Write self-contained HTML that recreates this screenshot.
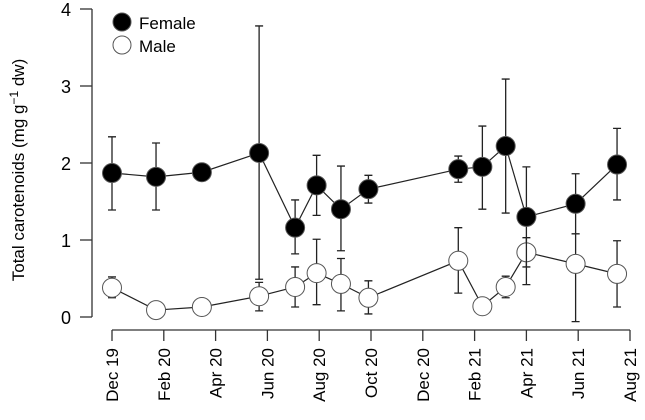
<!DOCTYPE html>
<html><head><meta charset="utf-8"><style>
body{margin:0;background:#fff}
svg{display:block;font-family:"Liberation Sans",Arial,sans-serif}
</style></head><body>
<svg id="chart" width="645" height="420" viewBox="0 0 645 420" xmlns="http://www.w3.org/2000/svg">
<g id="axes"></g><g id="series"></g>
<g>
<circle cx="122" cy="22" r="9" fill="#000" stroke="#555" stroke-width="1"/>
<text x="139" y="29" font-size="17">Female</text>
<circle cx="122" cy="45" r="9" fill="#fff" stroke="#555" stroke-width="1"/>
<text x="139" y="52" font-size="17">Male</text>
</g>
<text transform="translate(24,170) rotate(-90)" text-anchor="middle" font-size="17">Total carotenoids (mg g<tspan dy="-6" font-size="12">−1</tspan><tspan dy="6"> dw)</tspan></text>
</svg>
<script>
const xTickLabels=["Dec 19","Feb 20","Apr 20","Jun 20","Aug 20","Oct 20","Dec 20","Feb 21","Apr 21","Jun 21","Aug 21"];
const yTicks=[0,1,2,3,4];
const femaleMonth=[0,1.7,3.47,5.68,7.07,7.9,8.84,9.9,13.37,14.3,15.2,16.0,17.9,19.5];
const femaleVal=[1.87,1.82,1.88,2.13,1.16,1.71,1.40,1.66,1.92,1.95,2.22,1.30,1.47,1.98];
const femaleHi=[2.34,2.26,null,3.78,1.52,2.10,1.96,1.84,2.09,2.48,3.09,1.95,1.86,2.45];
const femaleLo=[1.39,1.39,null,0.49,0.82,1.32,0.86,1.48,1.75,1.40,1.35,0.42,1.08,1.52];
const maleMonth=femaleMonth;
const maleVal=[0.38,0.09,0.13,0.27,0.39,0.57,0.43,0.25,0.73,0.14,0.39,0.84,0.69,0.56];
const maleHi=[0.52,null,null,0.45,0.65,1.01,0.76,0.47,1.16,null,0.53,1.03,1.08,0.99];
const maleLo=[0.25,null,null,0.08,0.13,0.16,0.08,0.04,0.31,null,0.25,0.65,-0.06,0.13];
const NS="http://www.w3.org/2000/svg";
const X=m=>112+m*25.9;
const Y=v=>317-v*77;
function mk(t,a,p){const e=document.createElementNS(NS,t);for(const k in a)e.setAttribute(k,a[k]);p.appendChild(e);return e;}
const ax=document.getElementById('axes');
let yl=mk('line',{x1:92,x2:92,y1:Y(0),y2:Y(4),stroke:'#333','stroke-width':1.3},ax);


yTicks.forEach(v=>{
 let t=mk('line',{x1:80,x2:92,y1:Y(v),y2:Y(v),stroke:'#333','stroke-width':1.3},ax);
 
 
 let l=mk('text',{x:71,y:Y(v)+7,'text-anchor':'end','font-size':18},ax);l.textContent=v;
 
 
});
let xl=mk('line',{x1:X(0),x2:X(20),y1:330,y2:330,stroke:'#333','stroke-width':1.3},ax);


xTickLabels.forEach((s,i)=>{
 const x=X(i*2);
 let t=mk('line',{x1:x,x2:x,y1:330,y2:341,stroke:'#333','stroke-width':1.3},ax);
 
 
 let l=mk('text',{transform:`translate(${x+6},348) rotate(-90)`,'text-anchor':'end','font-size':17},ax);l.textContent=s;
 
 
});
const sg=document.getElementById('series');
function series(name,mo,val,hi,lo,fill){
 const g=mk('g',{},sg);
 
 
 mo.forEach((m,i)=>{if(hi[i]==null)return;const x=X(m);
  const e=mk('path',{d:`M${x},${Y(hi[i])}V${Y(lo[i])}M${x-4},${Y(hi[i])}H${x+4}M${x-4},${Y(lo[i])}H${x+4}`,stroke:'#222','stroke-width':1.3,fill:'none'},g);
  
  
 });
 const ln=mk('polyline',{points:mo.map((m,i)=>X(m)+','+Y(val[i])).join(' '),fill:'none',stroke:'#222','stroke-width':1.2},g);
 
 
 mo.forEach((m,i)=>{
  const c=mk('circle',{cx:X(m),cy:Y(val[i]),r:9.5,fill:fill,stroke:'#555','stroke-width':1},g);
  
  
 });
}
series('male',maleMonth,maleVal,maleHi,maleLo,'#fff');
series('female',femaleMonth,femaleVal,femaleHi,femaleLo,'#000');
</script>
</body></html>
